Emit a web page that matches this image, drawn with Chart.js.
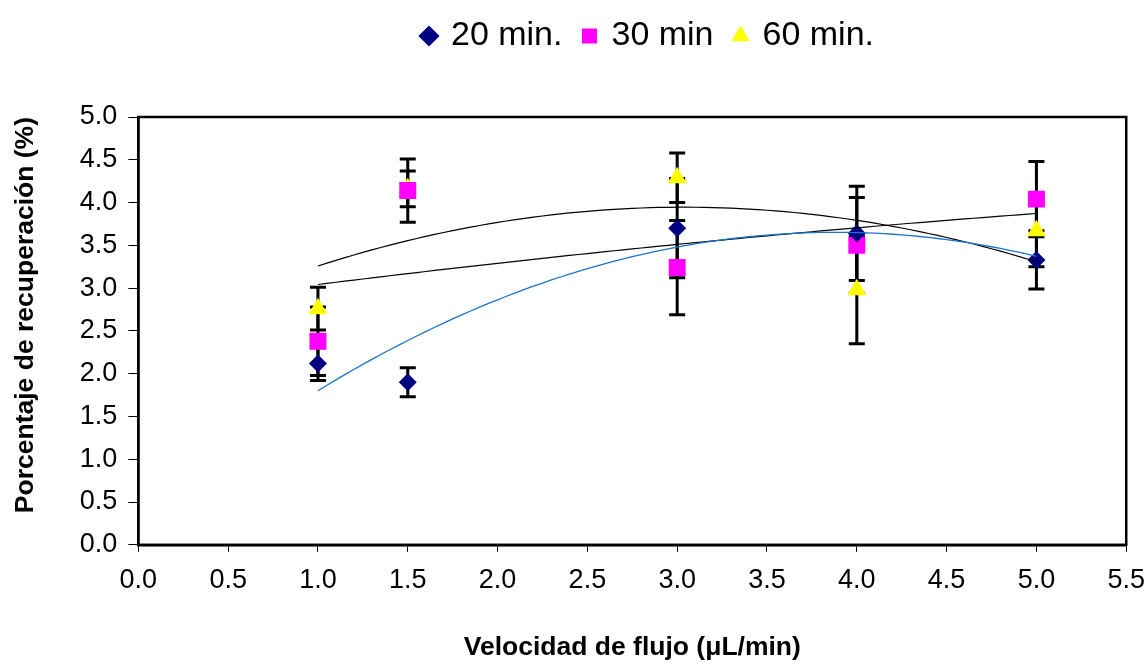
<!DOCTYPE html>
<html>
<head>
<meta charset="utf-8">
<script src="https://cdn.jsdelivr.net/npm/chart.js@4.4.0/dist/chart.umd.min.js"></script>
<style>
html, body { margin: 0; padding: 0; background: #fff; }
#wrap { width: 1146px; height: 664px; }
</style>
</head>
<body>
<div id="wrap"><canvas id="chart" width="1146" height="664"></canvas></div>
<script>
// flow rates (µL/min)
var flujo = [1, 1.5, 3, 4, 5];

// recovery (%) and error bar half widths per sampling time
var rec20 = [2.12, 1.90, 3.70, 3.64, 3.33];
var err20 = [0.20, 0.17, 0.58, 0.55, 0.34];
var rec30 = [2.38, 4.14, 3.24, 3.50, 4.04];
var err30 = [0.40, 0.37, 0.55, 0.56, 0.44];
var rec60 = [2.76, 4.16, 4.29, 2.98, 3.67];
var err60 = [0.25, 0.21, 0.29, 0.63, 0.42];

var labels = ['20 min.', '30 min', '60 min.'];
var font = "'Liberation Sans', Arial, sans-serif";

// least squares polynomial fit (order 2 trendline, like the spreadsheet)
function polyfit(xs, ys, deg){
    var n = deg + 1, A = [], b = [];
    for(var i = 0; i < n; i++){
        A.push([]);
        for(var j = 0; j < n; j++){
            var s = 0;
            for(var k = 0; k < xs.length; k++) s += Math.pow(xs[k], i + j);
            A[i].push(s);
        }
        var t = 0;
        for(var k = 0; k < xs.length; k++) t += ys[k] * Math.pow(xs[k], i);
        b.push(t);
    }
    for(var c = 0; c < n; c++){
        for(var r = c + 1; r < n; r++){
            var f = A[r][c] / A[c][c];
            for(var q = c; q < n; q++) A[r][q] -= f * A[c][q];
            b[r] -= f * b[c];
        }
    }
    var coef = new Array(n);
    for(var r = n - 1; r >= 0; r--){
        var s = b[r];
        for(var q = r + 1; q < n; q++) s -= A[r][q] * coef[q];
        coef[r] = s / A[r][r];
    }
    return coef;
}
function trend(ys){
    var c = polyfit(flujo, ys, 2), pts = [];
    var x0 = flujo[0], x1 = flujo[flujo.length - 1];
    for(var i = 0; i <= 80; i++){
        var x = x0 + (x1 - x0) * i / 80;
        pts.push({x: x, y: c[0] + c[1] * x + c[2] * x * x});
    }
    return pts;
}
function pts(ys){
    return flujo.map(function(x, i){ return {x: x, y: ys[i]}; });
}

var errors = [err20, err30, err60];

var errorBars = {
    id: 'errorBars',
    beforeDatasetsDraw: function(chart){
        var ctx = chart.ctx, xs = chart.scales.x, ys = chart.scales.y;
        ctx.save();
        ctx.strokeStyle = '#000';
        ctx.lineWidth = 3;
        chart.data.datasets.forEach(function(ds){
            if(ds.errIndex === undefined) return;
            var e = errors[ds.errIndex];
            ds.data.forEach(function(p, i){
                var px = xs.getPixelForValue(p.x);
                var top = ys.getPixelForValue(p.y + e[i]);
                var bot = ys.getPixelForValue(p.y - e[i]);
                ctx.beginPath();
                ctx.moveTo(px, top); ctx.lineTo(px, bot);
                ctx.moveTo(px - 8, top); ctx.lineTo(px + 8, top);
                ctx.moveTo(px - 8, bot); ctx.lineTo(px + 8, bot);
                ctx.stroke();
            });
        });
        ctx.restore();
    }
};

var frame = {
    id: 'frame',
    afterDraw: function(chart){
        var a = chart.chartArea, ctx = chart.ctx;
        ctx.save();
        ctx.strokeStyle = '#000';
        ctx.lineWidth = 2.5;
        ctx.strokeRect(a.left, a.top, a.right - a.left, a.bottom - a.top);
        ctx.restore();
    }
};

// extra room under the legend, and legend centred a bit right like the original
var legendGap = {
    id: 'legendGap',
    beforeInit: function(chart){
        var fit = chart.legend.fit, draw = chart.legend.draw;
        chart.legend.fit = function(){
            fit.bind(this)();
            this.height += 51;
        };
        chart.legend.draw = function(){
            var ctx = this.ctx;
            ctx.save();
            ctx.translate(73, -3);
            draw.bind(this)();
            ctx.restore();
        };
    }
};

new Chart(document.getElementById('chart').getContext('2d'), {
    type: 'scatter',
    data: {
        datasets: [
            {label: 't20', data: trend(rec20), showLine: true, borderColor: '#1874cd', borderWidth: 1.3, pointRadius: 0, fill: false},
            {label: 't30', data: trend(rec30), showLine: true, borderColor: '#000', borderWidth: 1.2, pointRadius: 0, fill: false},
            {label: 't60', data: trend(rec60), showLine: true, borderColor: '#000', borderWidth: 1.2, pointRadius: 0, fill: false},
            {label: labels[0], data: pts(rec20), errIndex: 0, pointStyle: 'rectRot', pointRadius: 9, backgroundColor: '#000080', borderColor: '#000080', borderWidth: 0},
            {label: labels[1], data: pts(rec30), errIndex: 1, pointStyle: 'rect', pointRadius: 12, backgroundColor: '#ff00ff', borderColor: '#ff00ff', borderWidth: 0},
            {label: labels[2], data: pts(rec60), errIndex: 2, pointStyle: 'triangle', pointRadius: 11, backgroundColor: '#ffff00', borderColor: '#ffff00', borderWidth: 0}
        ]
    },
    options: {
        responsive: false,
        animation: false,
        layout: {padding: {left: 6, right: 0, top: 0, bottom: 0}},
        plugins: {
            tooltip: {enabled: false},
            legend: {
                position: 'top',
                labels: {
                    usePointStyle: true,
                    boxHeight: 15,
                    boxWidth: 10,
                    padding: 22,
                    color: '#000',
                    font: {family: font, size: 34},
                    filter: function(item){ return item.datasetIndex >= 3; }
                }
            }
        },
        scales: {
            x: {
                type: 'linear',
                min: 0, max: 5.5,
                afterFit: function(scale){ scale.paddingRight = Math.max(0, scale.paddingRight - 12); },
                grid: {drawOnChartArea: false, tickLength: 7, color: '#000', lineWidth: 1},
                border: {color: '#000', width: 2.5},
                ticks: {stepSize: 0.5, color: '#000', padding: 13, maxRotation: 0,
                    font: {family: font, size: 27},
                    callback: function(v){ return v.toFixed(1); }},
                title: {display: true, text: 'Velocidad de flujo (μL/min)', color: '#000',
                    font: {family: font, size: 26.5, weight: 'bold'}, padding: {top: 22, bottom: 0}}
            },
            y: {
                min: 0, max: 5,
                grid: {drawOnChartArea: false, tickLength: 10, color: '#000', lineWidth: 1},
                border: {color: '#000', width: 2.5},
                ticks: {stepSize: 0.5, color: '#000', padding: 11,
                    font: {family: font, size: 27},
                    callback: function(v){ return v.toFixed(1); }},
                title: {display: true, text: 'Porcentaje de recuperación (%)', color: '#000', align: 'end',
                    font: {family: font, size: 26.5, weight: 'bold'}, padding: {top: 4, bottom: 27}}
            }
        }
    },
    plugins: [errorBars, frame, legendGap]
});
</script>
</body>
</html>
